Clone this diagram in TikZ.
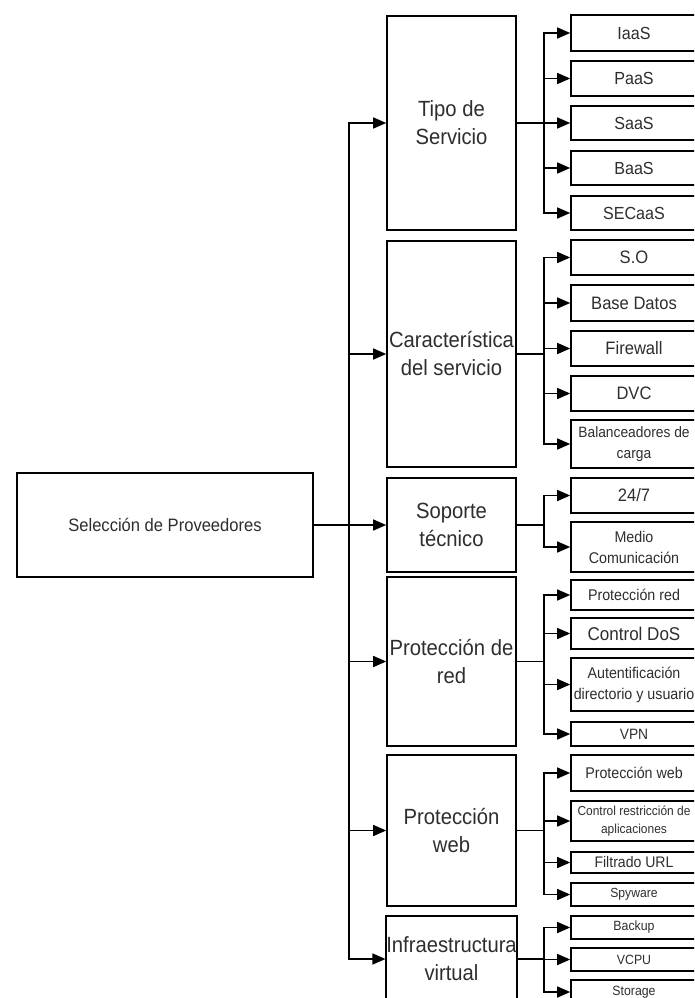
\documentclass[tikz,border=0pt]{standalone}
\usepackage{fontspec}
\setmainfont{Liberation Sans}[FakeStretch=0.92]
\usetikzlibrary{arrows.meta}
\tikzset{
  box/.style={draw=black, line width=1.6pt, rectangle, inner sep=0pt, align=center, text=black!82},
  midbox/.style={box, minimum width=129pt, font=\fontsize{22}{28}\selectfont},
  leafbox/.style={box, minimum width=126pt},
  conn/.style={line width=1.5pt, draw=black},
  arr/.style={conn, -{Triangle[length=13pt,width=11pt]}},
}
\begin{document}
\begin{tikzpicture}[x=1pt,y=-1pt]
\useasboundingbox (0,0) rectangle (694,998);
\clip (0,0) rectangle (694,998);
\fill[white] (0,0) rectangle (694,998);

% root
\node[box, minimum width=296pt, minimum height=104pt, font=\fontsize{18}{22}\selectfont] (sel) at (165,525) {Selección de Proveedores};

% middle column
\node[midbox, minimum height=214pt] (tipo) at (451.5,123) {Tipo de\\Servicio};
\node[midbox, minimum height=226pt] (carac) at (451.5,354) {Característica\\del servicio};
\node[midbox, minimum height=94pt] (sop) at (451.5,525) {Soporte\\técnico};
\node[midbox, minimum height=169pt] (pred) at (451.5,661.5) {Protección de\\red};
\node[midbox, minimum height=151pt] (pweb) at (451.5,830.5) {Protección\\web};
\node[midbox, minimum height=86pt] (infra) at (451.5,959) {Infraestructura\\virtual};

% leaves
\node[leafbox, minimum height=36pt, font=\fontsize{17.5}{21}\selectfont] (iaas) at (634,33) {IaaS};
\node[leafbox, minimum height=35pt, font=\fontsize{17.5}{21}\selectfont] (paas) at (634,78.5) {PaaS};
\node[leafbox, minimum height=34pt, font=\fontsize{17.5}{21}\selectfont] (saas) at (634,123) {SaaS};
\node[leafbox, minimum height=34pt, font=\fontsize{17.5}{21}\selectfont] (baas) at (634,168) {BaaS};
\node[leafbox, minimum height=34pt, font=\fontsize{17.5}{21}\selectfont] (secaas) at (634,213) {SECaaS};

\node[leafbox, minimum height=35pt, font=\fontsize{18}{21}\selectfont] (so) at (634,257.5) {S.O};
\node[leafbox, minimum height=36pt, font=\fontsize{18}{21}\selectfont] (bd) at (634,303) {Base Datos};
\node[leafbox, minimum height=35pt, font=\fontsize{18}{21}\selectfont] (fw) at (634,348.5) {Firewall};
\node[leafbox, minimum height=35pt, font=\fontsize{18}{21}\selectfont] (dvc) at (634,393.5) {DVC};
\node[leafbox, minimum height=48pt, font=\fontsize{15}{21}\selectfont] (bal) at (634,444) {Balanceadores de\\carga};

\node[leafbox, minimum height=35pt, font=\fontsize{18}{21}\selectfont] (h247) at (634,495.5) {24/7};
\node[leafbox, minimum height=50pt, font=\fontsize{15.5}{21}\selectfont] (medio) at (634,547) {Medio\\Comunicación};

\node[leafbox, minimum height=30pt, font=\fontsize{15.5}{19}\selectfont] (protred) at (634,595) {Protección red};
\node[leafbox, minimum height=31pt, font=\fontsize{18.5}{21}\selectfont] (dos) at (634,633.5) {Control DoS};
\node[leafbox, minimum height=53pt, font=\fontsize{15.5}{21}\selectfont] (auth) at (634,684.5) {Autentificación\\directorio y usuario};
\node[leafbox, minimum height=24pt, font=\fontsize{15}{18}\selectfont] (vpn) at (634,734) {VPN};

\node[leafbox, minimum height=36pt, font=\fontsize{15.5}{19}\selectfont] (protweb) at (634,773) {Protección web};
\node[leafbox, minimum height=40pt, font=\fontsize{13}{18}\selectfont] (ctrl) at (634,821) {Control restricción de\\aplicaciones};
\node[leafbox, minimum height=21pt, font=\fontsize{15.3}{18}\selectfont] (url) at (634,862.5) {Filtrado URL};
\node[leafbox, minimum height=23pt, font=\fontsize{13.2}{16}\selectfont] (spy) at (634,894.5) {Spyware};

\node[leafbox, minimum height=23pt, font=\fontsize{13.4}{16}\selectfont] (backup) at (634,927.5) {Backup};
\node[leafbox, minimum height=23pt, font=\fontsize{13.4}{16}\selectfont] (vcpu) at (634,959.5) {VCPU};
\node[leafbox, minimum height=24pt, font=\fontsize{13.4}{16}\selectfont] (storage) at (634,992) {Storage};

% trunk
\coordinate (tr) at (349,525);
\draw[arr] (sel.east) -- (sop.west);
\draw[conn] (349,123) -- (349,959);
\draw[arr] (tr) |- (tipo.west);
\draw[arr] (tr) |- (carac.west);
\draw[arr] (tr) |- (pred.west);
\draw[arr] (tr) |- (pweb.west);
\draw[arr] (tr) |- (infra.west);

% branches
\coordinate (bT) at (544,123);
\draw[conn] (tipo.east) -- (bT);
\foreach \n in {iaas,paas,saas,baas,secaas} \draw[arr] (bT) |- (\n.west);

\coordinate (bC) at (544,354);
\draw[conn] (carac.east) -- (bC);
\foreach \n in {so,bd,fw,dvc,bal} \draw[arr] (bC) |- (\n.west);

\coordinate (bS) at (544,525);
\draw[conn] (sop.east) -- (bS);
\foreach \n in {h247,medio} \draw[arr] (bS) |- (\n.west);

\coordinate (bR) at (544,661.5);
\draw[conn] (pred.east) -- (bR);
\foreach \n in {protred,dos,auth,vpn} \draw[arr] (bR) |- (\n.west);

\coordinate (bW) at (544,830.5);
\draw[conn] (pweb.east) -- (bW);
\foreach \n in {protweb,ctrl,url,spy} \draw[arr] (bW) |- (\n.west);

\coordinate (bI) at (544,959);
\draw[conn] (infra.east) -- (bI);
\foreach \n in {backup,vcpu,storage} \draw[arr] (bI) |- (\n.west);
\end{tikzpicture}
\end{document}
